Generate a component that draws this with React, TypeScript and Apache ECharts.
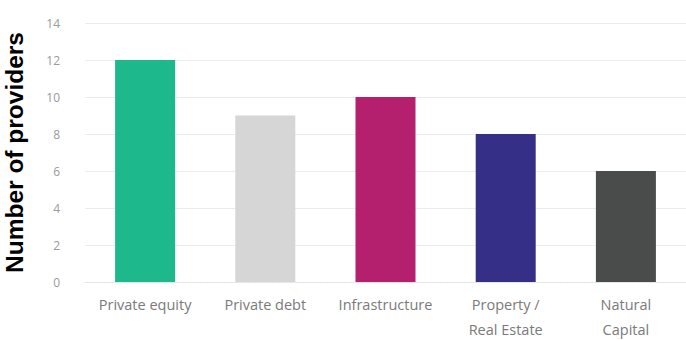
import React, { useEffect, useRef } from "react";
import * as echarts from "echarts";

const categories = ["Private equity", "Private debt", "Infrastructure", "Property /\nReal Estate", "Natural\nCapital"];
const values = [12, 9, 10, 8, 6];
const colors = ["#1DB98D", "#D6D6D6", "#B41F6E", "#362F87", "#4A4C4B"];
const yTicks = { min: 0, max: 14, interval: 2 };

export default function App() {
  const ref = useRef<HTMLDivElement>(null);
  useEffect(() => {
    document.body.style.margin = "0";
    const chart = echarts.init(ref.current!, null, { renderer: "svg" });
    chart.setOption({
      animation: false,
      grid: { left: 85, right: 0, top: 23, bottom: 58, containLabel: false, outerBoundsMode: "none" },
      xAxis: {
        type: "category",
        data: categories,
        axisLine: { show: true, lineStyle: { color: "#e4e4e4", type: "dashed" } },
        axisTick: { show: false },
        axisLabel: { color: "#7a7a7a", fontSize: 14.5, fontFamily: "Open Sans", lineHeight: 25, margin: 10, interval: 0 },
      },
      yAxis: {
        type: "value",
        min: yTicks.min,
        max: yTicks.max,
        interval: yTicks.interval,
        name: "Number of providers",
        nameLocation: "middle",
        nameRotate: 90,
        nameGap: 58,
        nameTextStyle: { color: "#000", fontSize: 24.5, fontWeight: "bold", fontFamily: "Liberation Sans" },
        axisLabel: { color: "#9a9a9a", fontSize: 12, fontFamily: "Open Sans", margin: 25 },
        axisLine: { show: false },
        axisTick: { show: false },
        splitLine: { lineStyle: { color: "#ececec" } },
      },
      series: [
        {
          type: "bar",
          barWidth: 60,
          data: values.map((v, i) => ({ value: v, itemStyle: { color: colors[i] } })),
        },
      ],
    });
    return () => chart.dispose();
  }, []);
  return <div ref={ref} style={{ width: 686, height: 340 }} />;
}
